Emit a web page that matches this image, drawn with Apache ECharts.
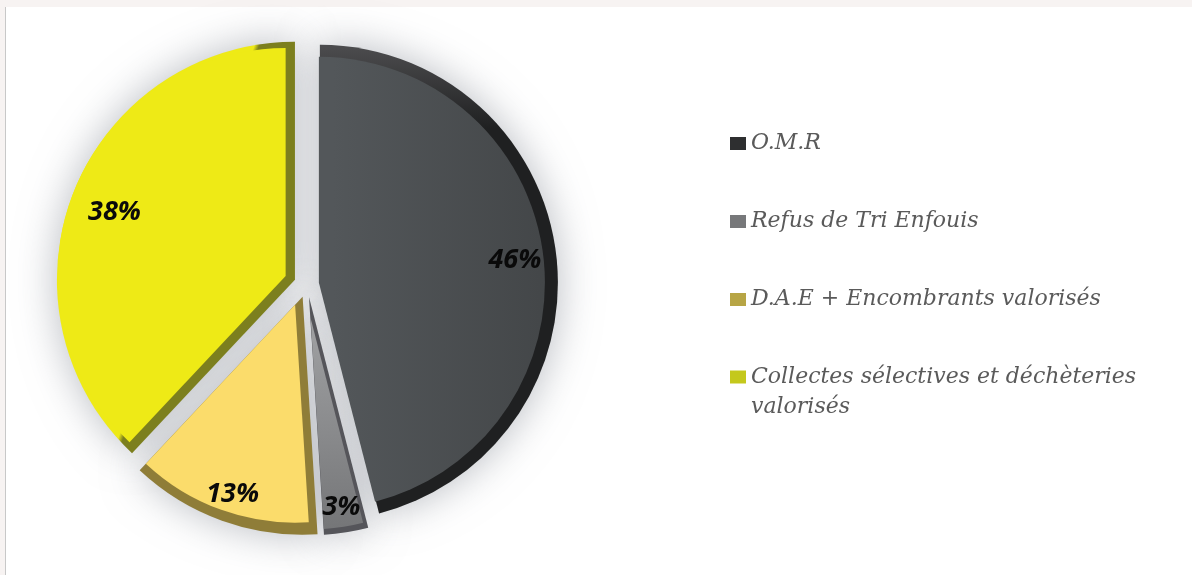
<!DOCTYPE html>
<html>
<head>
<meta charset="utf-8">
<style>html,body{margin:0;padding:0;background:#f7f3f2}#c{width:1192px;height:575px}</style>
<script src="https://cdn.jsdelivr.net/npm/echarts@6/dist/echarts.min.js"></script>
</head>
<body>
<div id="c"></div>
<script>
const categories = ['O.M.R', 'Refus de Tri Enfouis', 'D.A.E + Encombrants valorisés', 'Collectes sélectives et déchèteries valorisés'];
const values = [46, 3, 13, 38];
const legendLabels = ['O.M.R', 'Refus de Tri Enfouis', 'D.A.E + Encombrants valorisés', '\nCollectes sélectives et déchèteries\nvalorisés'];
const legendColors = ['#2e2f30', '#77787a', '#b7a545', '#c4c81c'];
// face inset of each slice: [dx, dy, radius]
const faceInset = [[-1, 0, 226], [1.6, 21, 211], [-7.5, 8, 218], [-9.3, -3.7, 228]];
// label nudge of each slice
const labelNudge = [[-4, 3], [1, 12], [-2, 9], [6, 6]];

const CX = 307, CY = 284.5, R = 238, GAP = 13;

function grad(x, y, x2, y2, stops) {
  return {
    type: 'linear', global: true, x: x, y: y, x2: x2, y2: y2,
    colorStops: stops.map(s => ({ offset: s[0], color: s[1] }))
  };
}
const edgeColors = [
  grad(0, 50, 0, 130, [[0, '#4b4b4d'], [1, '#1f2021']]),
  '#55555a',
  '#8f7d38',
  grad(193, 68, 268, 94, [[0, '#eeea16'], [0.8, '#eeea16'], [0.86, '#7c7f1e'], [1, '#7c7f1e']])
];
const faceColors = [
  grad(320, 0, 540, 0, [[0, '#53575a'], [1, '#434648']]),
  grad(0, 300, 0, 520, [[0, '#a2a3a5'], [1, '#747577']]),
  '#fbdc6b',
  '#eeea16'
];

function items(style) {
  return categories.map((n, i) => ({ name: n, value: values[i], selected: true, itemStyle: style(i) }));
}
function pie(extra) {
  return Object.assign({
    type: 'pie', center: [CX, CY], radius: R, startAngle: 90, clockwise: true,
    selectedMode: 'multiple', selectedOffset: GAP, silent: true, animation: false,
    avoidLabelOverlap: false, label: { show: false }, labelLine: { show: false }
  }, extra);
}
const series = [];
// soft shadow below everything
series.push(pie({
  z: 1,
  data: items(i => ({ color: '#d8dadd', shadowBlur: 42, shadowColor: 'rgba(125,132,142,0.55)' }))
}));
// bevel edges
series.push(pie({ z: 2, data: items(i => ({ color: edgeColors[i] })) }));
// slice faces, each slightly inset
categories.forEach((c, k) => {
  series.push(pie({
    z: 3,
    center: [CX + faceInset[k][0], CY + faceInset[k][1]],
    radius: faceInset[k][2],
    data: items(i => ({ color: i === k ? faceColors[i] : 'rgba(0,0,0,0)' }))
  }));
});
// percentage labels
series.push(pie({
  z: 4,
  radius: [R * 0.66, R],
  label: {
    show: true, position: 'inside', formatter: '{c}%',
    fontFamily: 'Open Sans', fontStyle: 'italic', fontWeight: 'bold', fontSize: 27, color: '#0a0a0a'
  },
  labelLayout: p => ({ dx: labelNudge[p.dataIndex][0], dy: labelNudge[p.dataIndex][1] }),
  data: items(i => ({ color: 'rgba(0,0,0,0)' }))
}));

const legendText = {
  fontFamily: 'DejaVu Serif', fontStyle: 'italic', fontSize: 22, color: '#5a5a5a', lineHeight: 30
};
function legendItem(i) {
  return { name: categories[i], icon: 'rect', itemStyle: { color: legendColors[i] } };
}
const legendBase = {
  orient: 'vertical', left: 725, itemWidth: 16, itemHeight: 13, itemGap: 48,
  selectedMode: false, textStyle: legendText,
  formatter: n => legendLabels[categories.indexOf(n)]
};
const chart = echarts.init(document.getElementById('c'), null, { renderer: 'canvas' });
chart.setOption({
  animation: false,
  backgroundColor: 'transparent',
  graphic: [
    { type: 'rect', z: -10, shape: { x: 6, y: 7, width: 1186, height: 568 }, style: { fill: '#ffffff' } },
    { type: 'rect', z: -10, shape: { x: 5, y: 7, width: 1, height: 568 }, style: { fill: '#c8c8c8' } }
  ],
  legend: [
    Object.assign({}, legendBase, { top: 123.5, data: [0, 1, 2].map(legendItem) }),
    Object.assign({}, legendBase, { top: 327, data: [legendItem(3)] })
  ],
  series: series
});
</script>
</body>
</html>
